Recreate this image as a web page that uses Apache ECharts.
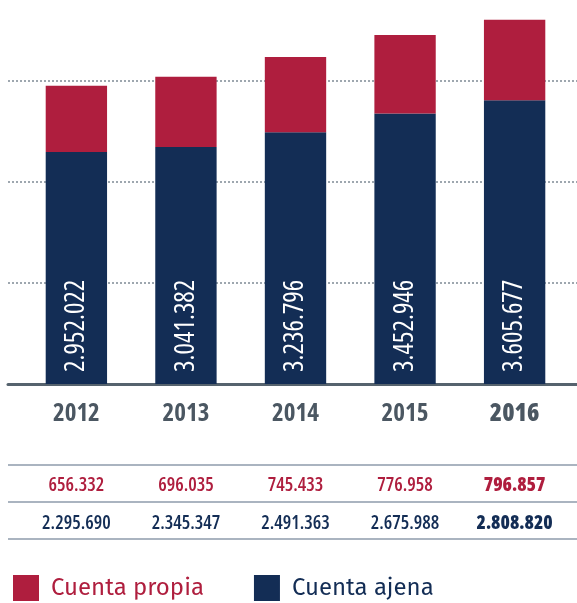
<!DOCTYPE html>
<html>
<head>
<meta charset="utf-8">
<script src="https://cdn.jsdelivr.net/npm/echarts@6/dist/echarts.min.js"></script>
<style>
  html, body { margin: 0; padding: 0; background: #fff; }
  #chart { width: 577px; height: 603px; }
</style>
</head>
<body>
<div id="chart"></div>
<script>
const years = ['2012', '2013', '2014', '2015', '2016']
const cuentaPropia = [656332, 696035, 745433, 776958, 796857]
const cuentaAjena = [2295690, 2345347, 2491363, 2675988, 2808820]
const totals = [2952022, 3041382, 3236796, 3452946, 3605677]
const yMax = 3800000
const yStep = 1000000

const RED = '#af1e3e'
const NAVY = '#132d55'
const GREY = '#4b5762'
// Open Sans en ancho condensado (el "condensed" entra en la cadena font del canvas)
const COND = "'Open Sans', sans-serif"

// 2952022 -> 2.952.022
function fmt(v) {
  return String(v).replace(/\B(?=(\d{3})+(?!\d))/g, '.')
}

// la ultima columna (2016) va en negrita
function lastBold(v, i) {
  return i === years.length - 1 ? '{b|' + v + '}' : v
}

const chart = echarts.init(document.getElementById('chart'))

const rowAxis = (values, offset, color) => ({
  type: 'category',
  gridIndex: 1,
  position: 'bottom',
  offset: offset,
  data: values.map(fmt),
  axisLine: { show: false },
  axisTick: { show: false },
  axisLabel: {
    interval: 0,
    margin: 0,
    verticalAlign: 'middle',
    color: color,
    fontSize: 19,
    fontWeight: 'condensed 600',
    fontFamily: COND,
    formatter: lastBold,
    rich: { b: { fontSize: 19, fontFamily: COND, fontWeight: 'condensed 800', color: color } }
  }
})

const option = {
  animation: false,
  grid: [
    { left: 8, right: 0, top: 0, bottom: 219 },
    { left: 21.6, right: 7.6, top: 0, bottom: 219 }
  ],
  xAxis: [
    {
      type: 'category',
      gridIndex: 0,
      data: years,
      axisLine: { lineStyle: { color: '#56636e', width: 3 } },
      axisTick: { show: false },
      axisLabel: { show: false }
    },
    {
      type: 'category',
      gridIndex: 1,
      position: 'bottom',
      data: years,
      axisLine: { show: false },
      axisTick: { show: false },
      axisLabel: {
        interval: 0,
        margin: 30,
        verticalAlign: 'middle',
        color: GREY,
        fontSize: 25,
        fontWeight: 'condensed 700',
        fontFamily: COND,
        formatter: lastBold,
        rich: { b: { fontSize: 25, fontWeight: 'condensed 800', fontFamily: COND, color: GREY } }
      }
    },
    rowAxis(cuentaPropia, 102, RED),
    rowAxis(cuentaAjena, 140, NAVY)
  ],
  yAxis: [
    {
      type: 'value',
      gridIndex: 0,
      min: 0,
      max: yMax,
      interval: yStep,
      axisLine: { show: false },
      axisTick: { show: false },
      axisLabel: { show: false },
      splitLine: {
        show: true,
        showMinLine: false,
        showMaxLine: false,
        lineStyle: { color: '#7f8a95', width: 1.5, type: [2, 2] }
      }
    },
    {
      type: 'value',
      gridIndex: 1,
      min: 0,
      max: yMax,
      interval: yStep,
      show: false,
      splitLine: { show: false }
    }
  ],
  legend: {
    left: 8,
    top: 570,
    icon: 'rect',
    itemWidth: 26,
    itemHeight: 26,
    itemGap: 50,
    selectedMode: false,
    textStyle: { fontSize: 24, fontFamily: "'Fira Sans', sans-serif", padding: [0, 0, 0, 7] },
    data: [
      { name: 'Cuenta propia', textStyle: { color: RED } },
      { name: 'Cuenta ajena', textStyle: { color: NAVY } }
    ]
  },
  graphic: [465, 502, 539].map(y => ({
    type: 'line',
    shape: { x1: 8, y1: y, x2: 577, y2: y },
    style: { stroke: '#8e9bab', lineWidth: 1.5 },
    silent: true
  })),
  series: [
    {
      name: 'Cuenta ajena',
      type: 'bar',
      xAxisIndex: 1,
      yAxisIndex: 1,
      stack: 'total',
      barWidth: '56%',
      itemStyle: { color: NAVY },
      label: {
        show: true,
        position: 'insideBottom',
        distance: 12,
        rotate: 90,
        align: 'left',
        verticalAlign: 'middle',
        color: '#fff',
        fontSize: 27,
        fontWeight: 'condensed 500',
        fontFamily: COND,
        formatter: p => fmt(totals[p.dataIndex])
      },
      data: cuentaAjena
    },
    {
      name: 'Cuenta propia',
      type: 'bar',
      xAxisIndex: 1,
      yAxisIndex: 1,
      stack: 'total',
      barWidth: '56%',
      itemStyle: { color: RED },
      data: cuentaPropia
    }
  ]
}

chart.setOption(option)
</script>
</body>
</html>
